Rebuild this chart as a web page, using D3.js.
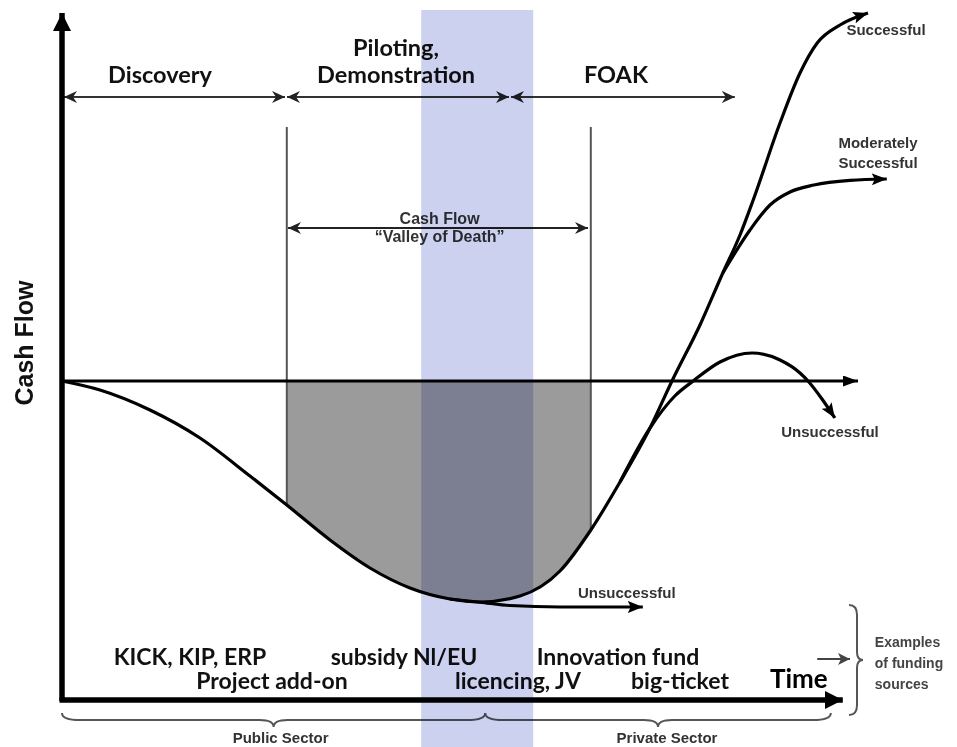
<!DOCTYPE html>
<html>
<head>
<meta charset="utf-8">
<script src="https://cdn.jsdelivr.net/npm/d3@7"></script>
<style>
  body { margin: 0; background: #fff; }
  svg { display: block; }
</style>
</head>
<body>
<script>
// ---------- data (time units, cash-flow units) ----------
const mainT = [0, 4.75, 11, 17.25, 23.5, 28.1, 33.5, 38.5, 43.5, 48.5, 52.25, 57.25, 62.25, 66.1, 69.75, 73.5, 76.25, 79.75, 82.6, 84.75, 86.4, 89.75, 92.25, 94.4, 97.25, 100.75];
const mainV = [0, -4.5, -14.5, -28.5, -47.5, -62, -79.5, -93.5, -103.5, -109, -110.5, -107.5, -95, -74.5, -50.5, -23.5, 0, 28, 54, 73, 90.5, 129, 154, 169, 178, 184];

const humpT = [69.75, 73.5, 76.6, 78.9, 82.25, 86.25, 89.75, 92.25, 93.25, 95, 96.6];
const humpV = [-50.5, -23.5, -7.5, 0, 9.5, 14, 10.5, 4, 0, -9, -18.5];

const moderateT = [82.6, 86, 88.5, 91, 94, 98.5, 103.1];
const moderateV = [54, 75.5, 88, 94.5, 98, 100.3, 101];

const lowT = [48.5, 52.25, 56, 62.25, 72.6];
const lowV = [-109, -110.6, -112.3, -113, -113];

const phaseBounds = [0, 28, 56, 84.1];
const phaseNames = [["Discovery"], ["Piloting,", "Demonstration"], ["FOAK"]];
const phaseLabelT = [12.25, 41.75, 69.25];

const valleyBounds = [28.1, 66.1];
const valleyBottomV = [-62, -74.5];
const valleyLines = ["Cash Flow", "\u201cValley of Death\u201d"];

const bandBounds = [44.9, 58.9];

const fundingLabels = ["KICK, KIP, ERP", "Project add-on", "subsidy Nl/EU", "licencing, JV", "Innovation fund", "big-ticket"];
const fundingT = [16, 26.25, 42.75, 57, 69.5, 77.25];
const fundingRow = [0, 1, 0, 1, 0, 1];

const outcomeLabels = [["Successful"], ["Moderately", "Successful"], ["Unsuccessful"], ["Unsuccessful"]];
const outcomeT = [103, 102, 96, 70.6];
const outcomeV = [173, 116.5, -28, -108.5];

const sectorNames = ["Public Sector", "Private Sector"];
const sectorBounds = [0, 52.9, 96.1];

const examplesLines = ["Examples", "of funding", "sources"];

// ---------- setup ----------
const W = 957, H = 747;
const x = d3.scaleLinear().domain([0, 110]).range([62, 942]);
const y = d3.scaleLinear().domain([-160, 185]).range([701, 11]);

const svg = d3.select("body").append("svg").attr("width", W).attr("height", H);
svg.append("rect").attr("width", W).attr("height", H).attr("fill", "#fff");

const defs = svg.append("defs");
function marker(id, path, L, Wd, color, orient) {
  defs.append("marker").attr("id", id)
    .attr("viewBox", `0 0 ${L} ${Wd}`)
    .attr("refX", L).attr("refY", Wd / 2)
    .attr("markerWidth", L).attr("markerHeight", Wd)
    .attr("markerUnits", "userSpaceOnUse")
    .attr("orient", orient || "auto")
    .append("path").attr("d", path).attr("fill", color);
}
marker("axisHead", "M0,0 L18,9 L0,18 Z", 18, 18, "#000");
marker("zeroHead", "M0,0 L15,5.5 L0,11 Z", 15, 11, "#000");
marker("curveHead", "M0,0 L15,6 L0,12 L3,6 Z", 15, 12, "#000");
marker("chev", "M0,0 L13,6 L0,12 L4,6 Z", 13, 12, "#222");
marker("chevStart", "M0,0 L13,6 L0,12 L4,6 Z", 13, 12, "#222", "auto-start-reverse");
marker("smallHead", "M0,0 L12,6 L0,12 L3,6 Z", 12, 12, "#444");

const zip = (T, V) => T.map((t, i) => [t, V[i]]);
const line = d3.line().x(d => x(d[0])).y(d => y(d[1])).curve(d3.curveMonotoneX);
const area = d3.area().x(d => x(d[0])).y0(y(0)).y1(d => y(d[1])).curve(d3.curveMonotoneX);

// ---------- valley fill ----------
defs.append("clipPath").attr("id", "valleyClip").append("rect")
  .attr("x", x(valleyBounds[0])).attr("y", y(0))
  .attr("width", x(valleyBounds[1]) - x(valleyBounds[0])).attr("height", y(-150) - y(0));
svg.append("path").datum(zip(mainT, mainV).filter(d => d[0] <= 77))
  .attr("d", area).attr("fill", "#9b9b9b").attr("clip-path", "url(#valleyClip)");

// ---------- valley vertical lines ----------
valleyBounds.forEach((t, i) => {
  svg.append("line").attr("x1", x(t)).attr("x2", x(t))
    .attr("y1", y(127)).attr("y2", y(valleyBottomV[i]))
    .attr("stroke", "#555").attr("stroke-width", 2);
});

// valley arrow
svg.append("line")
  .attr("x1", x(valleyBounds[0] + 0.15)).attr("x2", x(valleyBounds[1] - 0.35))
  .attr("y1", y(76.5)).attr("y2", y(76.5))
  .attr("stroke", "#222").attr("stroke-width", 2)
  .attr("marker-start", "url(#chevStart)").attr("marker-end", "url(#chev)");
svg.append("g").selectAll("text").data(valleyLines).join("text")
  .attr("x", x(47.2)).attr("y", (d, i) => y(78.5) + i * 18)
  .attr("text-anchor", "middle")
  .attr("font-family", "'Liberation Sans', Arial, sans-serif").attr("font-weight", "bold")
  .attr("font-size", 16).attr("fill", "#333").text(d => d);

// ---------- phase arrows ----------
for (let i = 0; i < phaseNames.length; i++) {
  svg.append("line")
    .attr("x1", x(phaseBounds[i]) + (i === 0 ? 2 : 1)).attr("x2", x(phaseBounds[i + 1]) - (i < 2 ? 1 : 0))
    .attr("y1", y(142)).attr("y2", y(142))
    .attr("stroke", "#333").attr("stroke-width", 2)
    .attr("marker-start", "url(#chevStart)")
    .attr("marker-end", "url(#chev)");
}
phaseNames.forEach((lines, i) => {
  lines.forEach((s, j) => {
    svg.append("text")
      .attr("x", x(phaseLabelT[i]))
      .attr("y", y(149) - (lines.length - 1 - j) * 27)
      .attr("text-anchor", "middle")
      .attr("font-family", "Lato, 'Open Sans', sans-serif").attr("font-weight", 700)
      .attr("font-size", 23.5).attr("fill", "#111").text(s);
  });
});

// ---------- zero line ----------
svg.append("line").attr("x1", x(0)).attr("x2", x(99.5))
  .attr("y1", y(0)).attr("y2", y(0))
  .attr("stroke", "#000").attr("stroke-width", 3)
  .attr("marker-end", "url(#zeroHead)");

// ---------- curves ----------
svg.append("path").datum(zip(mainT, mainV)).attr("d", line)
  .attr("fill", "none").attr("stroke", "#000").attr("stroke-width", 3.2)
  .attr("marker-end", "url(#curveHead)");
svg.append("path").datum(zip(humpT, humpV)).attr("d", line)
  .attr("fill", "none").attr("stroke", "#000").attr("stroke-width", 3.2)
  .attr("marker-end", "url(#curveHead)");
svg.append("path").datum(zip(moderateT, moderateV)).attr("d", line)
  .attr("fill", "none").attr("stroke", "#000").attr("stroke-width", 3.2)
  .attr("marker-end", "url(#curveHead)");
svg.append("path").datum(zip(lowT, lowV)).attr("d", line)
  .attr("fill", "none").attr("stroke", "#000").attr("stroke-width", 3)
  .attr("marker-end", "url(#curveHead)");

// outcome labels
outcomeLabels.forEach((lines, i) => {
  lines.forEach((s, j) => {
    svg.append("text")
      .attr("x", x(outcomeT[i])).attr("y", y(outcomeV[i]) + j * 20)
      .attr("text-anchor", "middle")
      .attr("font-family", "'Liberation Sans', Arial, sans-serif").attr("font-weight", "bold")
      .attr("font-size", 15).attr("fill", "#333").text(s);
  });
});

// ---------- axes ----------
svg.append("line").attr("x1", x(0)).attr("x2", x(0))
  .attr("y1", y(-160)).attr("y2", y(184))
  .attr("stroke", "#000").attr("stroke-width", 5.5)
  .attr("marker-end", "url(#axisHead)");
svg.append("line").attr("x1", x(0) - 2.5).attr("x2", x(97.6))
  .attr("y1", y(-159.5)).attr("y2", y(-159.5))
  .attr("stroke", "#000").attr("stroke-width", 5.5)
  .attr("marker-end", "url(#axisHead)");

svg.append("text")
  .attr("transform", `translate(33,${y(19)}) rotate(-90)`)
  .attr("text-anchor", "middle")
  .attr("font-family", "'Liberation Sans', Arial, sans-serif").attr("font-weight", "bold")
  .attr("font-size", 25).attr("fill", "#111").text("Cash Flow");

svg.append("text")
  .attr("x", x(92.1)).attr("y", y(-153.5))
  .attr("text-anchor", "middle")
  .attr("font-family", "Lato, 'Open Sans', sans-serif").attr("font-weight", 700)
  .attr("font-size", 26).attr("fill", "#000").text("Time");

// funding labels
svg.append("g").selectAll("text").data(fundingLabels).join("text")
  .attr("x", (d, i) => x(fundingT[i]))
  .attr("y", (d, i) => fundingRow[i] === 0 ? y(-142) : y(-154))
  .attr("text-anchor", "middle")
  .attr("font-family", "Lato, 'Open Sans', sans-serif").attr("font-weight", 700)
  .attr("font-size", 23).attr("fill", "#111").text(d => d);

// small arrow to examples
svg.append("line").attr("x1", x(94.4)).attr("x2", x(98.5))
  .attr("y1", y(-139)).attr("y2", y(-139))
  .attr("stroke", "#444").attr("stroke-width", 2)
  .attr("marker-end", "url(#smallHead)");

// right brace
(function () {
  const bx = x(99.25), top = y(-112), bot = y(-167), mid = (top + bot) / 2;
  const p = `M${bx - 7},${top} Q${bx + 1},${top} ${bx + 1},${top + 10} L${bx + 1},${mid - 8} Q${bx + 1},${mid} ${bx + 7},${mid} Q${bx + 1},${mid} ${bx + 1},${mid + 8} L${bx + 1},${bot - 10} Q${bx + 1},${bot} ${bx - 7},${bot}`;
  svg.append("path").attr("d", p).attr("fill", "none").attr("stroke", "#555").attr("stroke-width", 2);
})();
svg.append("g").selectAll("text").data(examplesLines).join("text")
  .attr("x", x(101.6)).attr("y", (d, i) => y(-133) + i * 21)
  .attr("font-family", "'Liberation Sans', Arial, sans-serif").attr("font-weight", "bold")
  .attr("font-size", 14).attr("fill", "#444").text(d => d);

// sector braces
sectorNames.forEach((name, i) => {
  const a = x(sectorBounds[i]), b = x(sectorBounds[i + 1]), m = (a + b) / 2;
  const t0 = y(-166), t1 = y(-169.5), t2 = y(-173);
  const p = `M${a},${t0} Q${a},${t1} ${a + 18},${t1} L${m - 14},${t1} Q${m},${t1} ${m},${t2} Q${m},${t1} ${m + 14},${t1} L${b - 18},${t1} Q${b},${t1} ${b},${t0}`;
  svg.append("path").attr("d", p).attr("fill", "none").attr("stroke", "#555").attr("stroke-width", 2);
  svg.append("text").attr("x", m + (i === 0 ? 7 : 9)).attr("y", y(-181))
    .attr("text-anchor", "middle")
    .attr("font-family", "'Liberation Sans', Arial, sans-serif").attr("font-weight", "bold")
    .attr("font-size", 15).attr("fill", "#333").text(name);
});

// ---------- highlighted band ----------
svg.append("rect")
  .attr("x", x(bandBounds[0])).attr("y", y(185.5))
  .attr("width", x(bandBounds[1]) - x(bandBounds[0])).attr("height", H)
  .attr("fill", "#cbd1ef").style("mix-blend-mode", "multiply");
</script>
</body>
</html>
